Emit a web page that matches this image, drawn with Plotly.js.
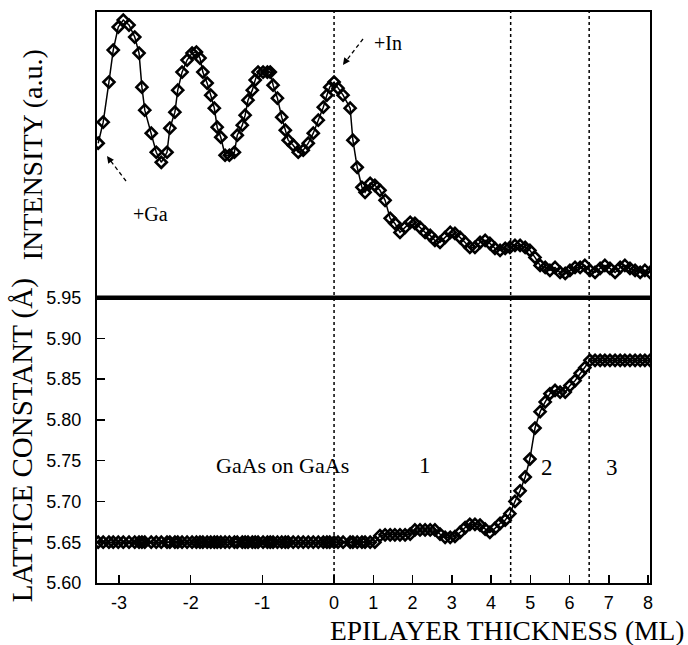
<!DOCTYPE html>
<html>
<head>
<meta charset="utf-8">
<script src="https://cdn.plot.ly/plotly-3.0.1.min.js"></script>
<style>html,body{margin:0;padding:0;background:#fff;}#chart{width:688px;height:645px;}</style>
</head>
<body>
<div id="chart"></div>
<script>
// Epilayer thickness (ML) sample positions (shared by both panels)
const thicknessML = [
  -3.29,-3.22,-3.14,-3.08,-3.01,-2.94,-2.86,-2.78,-2.72,-2.68,-2.64,-2.55,-2.48,-2.41,-2.33,-2.29,-2.22,-2.18,-2.12,-2.05,
  -1.98,-1.92,-1.87,-1.83,-1.77,-1.72,-1.67,-1.63,-1.58,-1.52,-1.46,-1.39,-1.35,-1.28,-1.24,-1.20,-1.14,-1.10,-1.06,-0.99,
  -0.93,-0.89,-0.85,-0.79,-0.73,-0.68,-0.64,-0.57,-0.50,-0.43,-0.36,-0.29,-0.22,-0.15,-0.10,-0.06,0.00,
  0.10,0.23,0.41,0.48,0.59,0.71,0.79,0.92,1.04,
  1.17,1.30,1.43,1.55,1.68,1.81,1.94,2.06,2.19,2.32,
  2.45,2.57,2.70,2.83,2.96,3.08,3.21,3.34,3.46,3.59,
  3.72,3.85,3.97,4.10,4.23,4.36,4.48,4.61,4.74,4.87,
  4.99,5.12,5.25,5.38,5.50,5.63,5.76,5.89,6.01,6.14,
  6.27,6.39,6.52,6.65,6.78,6.90,7.03,7.16,7.29,7.41,
  7.54,7.67,7.80,7.92,8.05
];

// RHEED intensity (a.u.)
const intensity = [
  154,175,215,247,270,277,272,260,244,210,187,164,145,135,145,169,185,207,225,237,
  244,245,239,225,214,202,189,170,160,142,142,145,162,172,182,197,207,217,225,225,
  225,225,212,199,180,167,157,152,145,147,154,164,177,190,202,210,215,
  209,202,189,157,130,110,105,114,112,
  107,97,79,74,65,70,75,74,70,65,
  62,57,55,60,65,64,60,55,50,50,
  55,57,54,49,47,49,50,52,52,50,
  47,40,32,30,27,30,25,24,27,30,
  30,32,27,25,29,32,29,25,30,32,
  29,27,25,27,25
];

// Lattice constant (Å)
const latticeConst = [
  5.65,5.65,5.65,5.65,5.65,5.65,5.65,5.65,5.65,5.65,5.65,5.65,5.65,5.65,5.65,5.65,5.65,5.65,5.65,5.65,
  5.65,5.65,5.65,5.65,5.65,5.65,5.65,5.65,5.65,5.65,5.65,5.65,5.65,5.65,5.65,5.65,5.65,5.65,5.65,5.65,
  5.65,5.65,5.65,5.65,5.65,5.65,5.65,5.65,5.65,5.65,5.65,5.65,5.65,5.65,5.65,5.65,5.65,
  5.65,5.65,5.65,5.65,5.65,5.65,5.65,5.65,5.65,
  5.658,5.659,5.659,5.659,5.659,5.659,5.660,5.665,5.665,5.665,
  5.665,5.665,5.660,5.656,5.656,5.657,5.662,5.668,5.672,5.672,
  5.671,5.666,5.662,5.667,5.673,5.677,5.685,5.700,5.713,5.730,
  5.752,5.790,5.810,5.822,5.832,5.836,5.834,5.834,5.842,5.848,
  5.857,5.864,5.873,5.873,5.873,5.873,5.873,5.873,5.873,5.873,
  5.873,5.873,5.873,5.873,5.873
];

const xTickLabels = [-3,-2,-1,0,1,2,3,4,5,6,7,8];
const yTickVals = [5.60,5.65,5.70,5.75,5.80,5.85,5.90,5.95];
const regionBounds = [0, 4.5, 6.5];
const regionLabels = ["GaAs on GaAs", "1", "2", "3"];

// The original axis uses a wider scale for the GaAs (negative) part
const K = 71.7 / 39.25;
const mapX = v => (v < 0 ? v * K : v);
const xs = thicknessML.map(mapX);

const serif = "'Liberation Serif', 'Times New Roman', serif";
const sans = "'Liberation Sans', Arial, sans-serif";

const markerStyle = {symbol: "diamond-open", size: 8.5, color: "black", line: {color: "black", width: 2.6}};

const traces = [
  {x: xs, y: latticeConst, xaxis: "x", yaxis: "y", mode: "lines+markers",
   line: {color: "black", width: 1.5}, marker: markerStyle, showlegend: false, hoverinfo: "skip"},
  {x: xs, y: intensity, xaxis: "x2", yaxis: "y2", mode: "lines+markers",
   line: {color: "black", width: 1.5}, marker: markerStyle, showlegend: false, hoverinfo: "skip"}
];

const PX = p => (p - 97) / 553;
const PY = p => (583 - p) / 571;

const shapes = [];
regionBounds.forEach(b => shapes.push({type: "line", xref: "x", yref: "paper", x0: b, x1: b, y0: 0, y1: 1,
  line: {color: "black", width: 1.5, dash: "dot"}}));
shapes.push({type: "line", xref: "paper", yref: "paper", x0: 0, x1: 1, y0: 0.5, y1: 0.5, line: {color: "black", width: 4}});
// dashed arrow shafts
shapes.push({type: "line", xref: "paper", yref: "paper", x0: PX(126), y0: PY(181), x1: PX(110), y1: PY(160),
  line: {color: "black", width: 1.3, dash: "4px,3px"}});
shapes.push({type: "line", xref: "paper", yref: "paper", x0: PX(363), y0: PY(39), x1: PX(346), y1: PY(61),
  line: {color: "black", width: 1.3, dash: "4px,3px"}});

const annotations = [
  {xref: "paper", yref: "paper", x: PX(131), y: PY(201), text: "+Ga", showarrow: false, font: {family: serif, size: 20, color: "black"}},
  {xref: "paper", yref: "paper", x: PX(388), y: PY(30), text: "+In", showarrow: false, font: {family: serif, size: 20, color: "black"}},
  {xref: "paper", yref: "paper", x: PX(107), y: PY(156), text: "", showarrow: true, ax: 5, ay: 7, arrowhead: 2, arrowsize: 1, arrowwidth: 1.4, arrowcolor: "black"},
  {xref: "paper", yref: "paper", x: PX(343), y: PY(65), text: "", showarrow: true, ax: 5, ay: -7, arrowhead: 2, arrowsize: 1, arrowwidth: 1.4, arrowcolor: "black"},
  {xref: "paper", yref: "paper", x: PX(214), y: PY(480), text: regionLabels[0], showarrow: false, font: {family: serif, size: 22, color: "black"}},
  {xref: "paper", yref: "paper", x: PX(425), y: PY(480), text: regionLabels[1], showarrow: false, font: {family: serif, size: 23, color: "black"}},
  {xref: "paper", yref: "paper", x: PX(555), y: PY(482), text: regionLabels[2], showarrow: false, font: {family: serif, size: 23, color: "black"}},
  {xref: "paper", yref: "paper", x: PX(620), y: PY(482), text: regionLabels[3], showarrow: false, font: {family: serif, size: 23, color: "black"}},
  {xref: "paper", yref: "paper", x: PX(686), y: PY(631), xanchor: "right", yanchor: "middle", text: "EPILAYER THICKNESS (ML)",
   showarrow: false, font: {family: serif, size: 27.5, color: "black"}}
];

const layout = {
  width: 688, height: 645,
  margin: {l: 97, r: 38, t: 12, b: 62},
  paper_bgcolor: "white", plot_bgcolor: "white",
  showlegend: false,
  xaxis: {domain: [0, 1], anchor: "y", range: [-6.04, 8.05], tickmode: "array",
    tickvals: xTickLabels.map(mapX), ticktext: xTickLabels.map(String),
    ticks: "inside", ticklen: 8, tickwidth: 1.5, tickcolor: "black",
    showline: true, mirror: true, linecolor: "black", linewidth: 2,
    showgrid: false, zeroline: false, ticklabelstandoff: 2,
    tickfont: {family: sans, size: 18, color: "black"}},
  yaxis: {domain: [0, 0.5], anchor: "x", range: [5.60, 5.95], tickmode: "array",
    tickvals: yTickVals, ticktext: yTickVals.map(v => v.toFixed(2)),
    ticks: "inside", ticklen: 8, tickwidth: 1.5, tickcolor: "black",
    showline: true, mirror: true, linecolor: "black", linewidth: 2,
    showgrid: false, zeroline: false, ticklabelstandoff: 10,
    tickfont: {family: sans, size: 18, color: "black"},
    title: {text: "LATTICE CONSTANT (Å)", standoff: 5, font: {family: serif, size: 29, color: "black"}}},
  xaxis2: {domain: [0, 1], anchor: "y2", matches: "x", range: [-6.04, 8.05],
    showticklabels: false, ticks: "", showline: true, mirror: true, linecolor: "black", linewidth: 2,
    showgrid: false, zeroline: false},
  yaxis2: {domain: [0.5, 1], anchor: "x2", range: [0, 285],
    showticklabels: false, ticks: "", showline: true, mirror: true, linecolor: "black", linewidth: 2,
    showgrid: false, zeroline: false,
    title: {text: "INTENSITY (a.u.)", standoff: 44, font: {family: serif, size: 28, color: "black"}}},
  shapes: shapes,
  annotations: annotations
};

Plotly.newPlot("chart", traces, layout, {staticPlot: true, displayModeBar: false});
</script>
</body>
</html>
